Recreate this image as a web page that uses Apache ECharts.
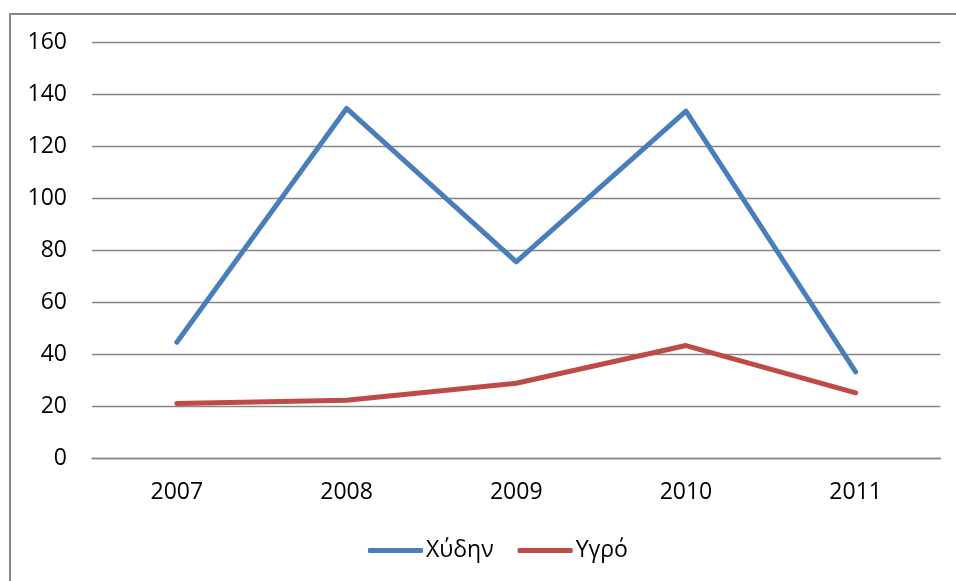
<!DOCTYPE html>
<html>
<head>
<meta charset="utf-8">
<script src="https://cdn.jsdelivr.net/npm/echarts@6/dist/echarts.min.js"></script>
<style>
  html, body { margin: 0; padding: 0; background: #fff; }
  #frame {
    position: absolute;
    left: 9px;
    top: 13px;
    width: 960px;
    height: 580px;
    border-left: 2px solid #868686;
    border-top: 2px solid #868686;
  }
  #chart {
    position: absolute;
    left: 0;
    top: 0;
    width: 956px;
    height: 581px;
  }
</style>
</head>
<body>
<div id="frame"></div>
<div id="chart"></div>
<script>
const years = ['2007', '2008', '2009', '2010', '2011']
const bulk = [44.6, 134.6, 75.5, 133.6, 33.2]
const liquid = [21, 22.2, 28.8, 43.3, 25.1]
const yTicks = { min: 0, max: 160, interval: 20 }

const font = '"Open Sans", "Noto Sans", sans-serif'
const chart = echarts.init(document.getElementById('chart'))

const option = {
  animation: false,
  grid: {
    left: 92,
    right: 15.5,
    top: 42.5,
    bottom: 123
  },
  legend: {
    bottom: 14,
    left: 363,
    itemWidth: 55,
    itemHeight: 5,
    itemGap: 24,
    icon: 'roundRect',
    textStyle: { fontFamily: font, fontSize: 23, color: '#000', padding: [0, 0, 0, -2] },
    data: ['Χύδην', 'Υγρό']
  },
  xAxis: {
    type: 'category',
    data: years,
    boundaryGap: true,
    axisLine: { show: true, lineStyle: { color: '#868686', width: 1.4 } },
    axisTick: { show: false },
    axisLabel: { fontFamily: font, fontSize: 23, color: '#000', margin: 23 }
  },
  yAxis: {
    type: 'value',
    min: yTicks.min,
    max: yTicks.max,
    interval: yTicks.interval,
    axisLine: { show: false },
    axisTick: { show: false },
    axisLabel: { fontFamily: font, fontSize: 23, color: '#000', margin: 25 },
    splitLine: { lineStyle: { color: '#868686', width: 1.4 } }
  },
  series: [
    {
      name: 'Χύδην',
      type: 'line',
      data: bulk,
      symbol: 'none',
      color: '#4a7ebb',
      lineStyle: { width: 5, cap: 'round', join: 'round' }
    },
    {
      name: 'Υγρό',
      type: 'line',
      data: liquid,
      symbol: 'none',
      color: '#be4b48',
      lineStyle: { width: 5, cap: 'round', join: 'round' }
    }
  ]
}
chart.setOption(option)
</script>
</body>
</html>
